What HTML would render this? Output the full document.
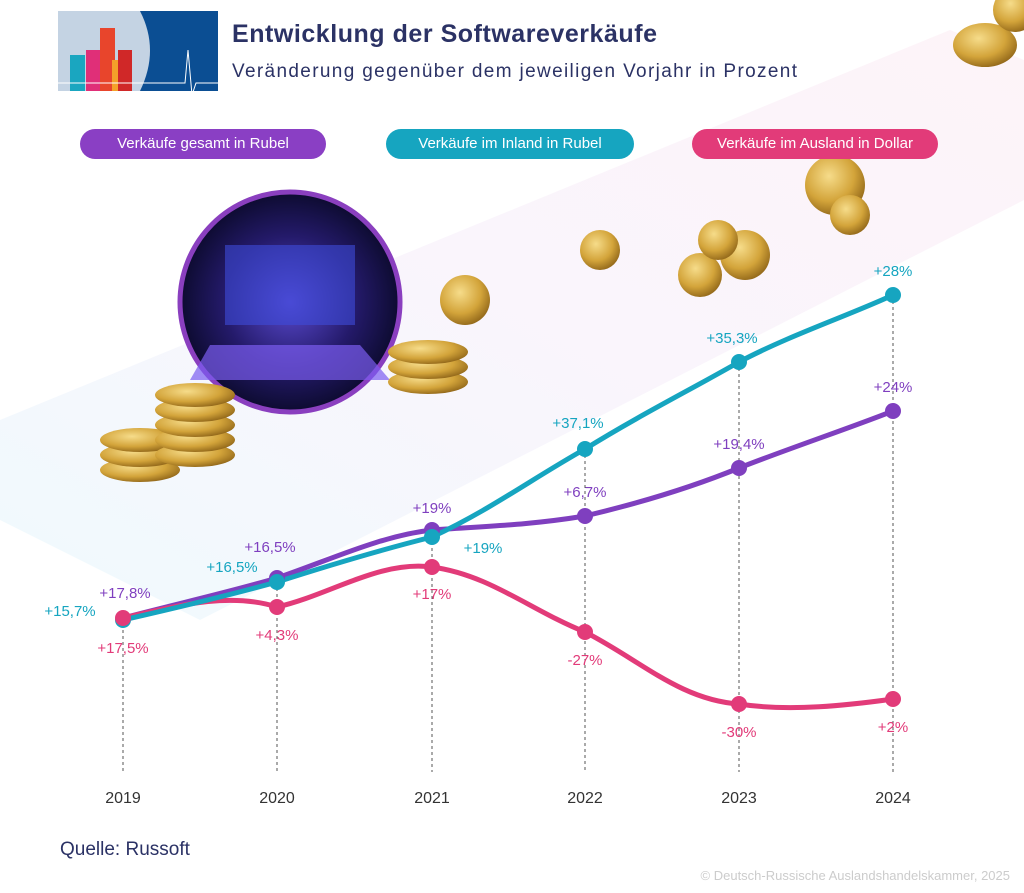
<!DOCTYPE html>
<html><head><meta charset="utf-8"><style>
body{margin:0;width:1024px;height:893px;background:#fff;font-family:"Liberation Sans",sans-serif;overflow:hidden;position:relative}
.pill{position:absolute;top:129px;height:30px;border-radius:15px;color:#fff;font-size:15px;line-height:30px;text-align:center}
</style></head><body>
<svg width="1024" height="893" style="position:absolute;left:0;top:0">
<defs>
<radialGradient id="scr" cx="50%" cy="50%" r="50%"><stop offset="0" stop-color="#5a4ad0"/><stop offset="0.6" stop-color="#241a6a"/><stop offset="1" stop-color="#0d0b30"/></radialGradient>
<radialGradient id="coin" cx="40%" cy="35%" r="70%"><stop offset="0" stop-color="#f6dc8a"/><stop offset="0.6" stop-color="#d3a43a"/><stop offset="1" stop-color="#8e6418"/></radialGradient>
<linearGradient id="sky" x1="0" y1="1" x2="1" y2="0"><stop offset="0" stop-color="#d8f3fb"/><stop offset="0.5" stop-color="#f1e6f8"/><stop offset="1" stop-color="#fbe3ee"/></linearGradient>
</defs>
<polygon points="0,520 0,420 950,30 1024,60 1024,200 200,620" fill="url(#sky)" opacity="0.4"/>
<rect x="58" y="11" width="160" height="80" fill="#0b4e93"/>
<path d="M58,11 H140 Q160,50 140,91 H58 Z" fill="#c4d3e3"/>
<rect x="70" y="55" width="15" height="36" fill="#1aa6c0"/><rect x="86" y="50" width="18" height="41" fill="#e02f78"/>
<rect x="100" y="28" width="15" height="63" fill="#e8452c"/><rect x="112" y="60" width="15" height="31" fill="#f4a12a"/><rect x="118" y="50" width="14" height="41" fill="#d02828"/>
<polyline points="58,83 185,83 188,50 192,95 196,83 218,83" fill="none" stroke="#fff" stroke-width="1"/>
<text x="232" y="42" font-size="25" font-weight="bold" fill="#2b3265" textLength="425">Entwicklung der Softwareverkäufe</text>
<text x="232" y="77" font-size="19" fill="#2b3265" textLength="565">Veränderung gegenüber dem jeweiligen Vorjahr in Prozent</text>
<circle cx="290" cy="302" r="110" fill="url(#scr)" stroke="#8a3fbf" stroke-width="5"/>
<rect x="225" y="245" width="130" height="80" fill="#3d4bd8" opacity="0.6"/>
<polygon points="210,345 360,345 390,380 190,380" fill="#7a5cf0" opacity="0.7"/>
<g fill="url(#coin)">
<ellipse cx="140" cy="470" rx="40" ry="12"/><ellipse cx="140" cy="455" rx="40" ry="12"/><ellipse cx="140" cy="440" rx="40" ry="12"/>
<ellipse cx="195" cy="455" rx="40" ry="12"/><ellipse cx="195" cy="440" rx="40" ry="12"/><ellipse cx="195" cy="425" rx="40" ry="12"/><ellipse cx="195" cy="410" rx="40" ry="12"/><ellipse cx="195" cy="395" rx="40" ry="12"/>
<ellipse cx="428" cy="382" rx="40" ry="12"/><ellipse cx="428" cy="367" rx="40" ry="12"/><ellipse cx="428" cy="352" rx="40" ry="12"/>
<circle cx="465" cy="300" r="25"/><circle cx="600" cy="250" r="20"/>
<circle cx="700" cy="275" r="22"/><circle cx="745" cy="255" r="25"/><circle cx="718" cy="240" r="20"/>
<circle cx="835" cy="185" r="30"/><circle cx="850" cy="215" r="20"/>
<ellipse cx="985" cy="45" rx="32" ry="22"/><circle cx="1015" cy="10" r="22"/>
</g>
<g stroke="#555" stroke-width="1" stroke-dasharray="3,3">
<line x1="123" y1="618" x2="123" y2="772"/><line x1="277" y1="582" x2="277" y2="772"/><line x1="432" y1="530" x2="432" y2="772"/>
<line x1="585" y1="449" x2="585" y2="772"/><line x1="739" y1="362" x2="739" y2="772"/><line x1="893" y1="295" x2="893" y2="772"/>
</g>
<g fill="none" stroke-width="5" stroke-linecap="round">
<path d="M123,618 C180,603 230,592 277,578 C330,560 380,536 432,530 C490,526 530,525 585,516 C640,503 690,488 739,468 C790,448 850,428 893,411" stroke="#7f3fbf"/>
<path d="M123,618 C180,605 230,592 277,607 C330,595 380,560 432,567 C490,575 530,610 585,632 C640,660 680,700 739,704 C790,712 850,705 893,699" stroke="#e23b79"/>
<path d="M123,620 C180,607 230,595 277,582 C330,565 380,550 432,537 C490,510 530,480 585,449 C640,415 690,390 739,362 C790,335 850,315 893,295" stroke="#16a5c0"/>
</g>
<g fill="#7f3fbf"><circle cx="432" cy="530" r="8"/><circle cx="585" cy="516" r="8"/><circle cx="739" cy="468" r="8"/><circle cx="893" cy="411" r="8"/><circle cx="277" cy="578" r="8"/></g>
<g fill="#16a5c0"><circle cx="277" cy="582" r="8"/><circle cx="432" cy="537" r="8"/><circle cx="585" cy="449" r="8"/><circle cx="739" cy="362" r="8"/><circle cx="893" cy="295" r="8"/><circle cx="123" cy="620" r="8"/></g>
<g fill="#e23b79"><circle cx="123" cy="618" r="8"/><circle cx="277" cy="607" r="8"/><circle cx="432" cy="567" r="8"/><circle cx="585" cy="632" r="8"/><circle cx="739" cy="704" r="8"/><circle cx="893" cy="699" r="8"/></g>
<g font-size="15" text-anchor="middle">
<g fill="#7f3fbf"><text x="125" y="598">+17,8%</text><text x="270" y="552">+16,5%</text><text x="432" y="513">+19%</text><text x="585" y="497">+6,7%</text><text x="739" y="449">+19,4%</text><text x="893" y="392">+24%</text></g>
<g fill="#16a5c0"><text x="70" y="616">+15,7%</text><text x="232" y="572">+16,5%</text><text x="483" y="553">+19%</text><text x="578" y="428">+37,1%</text><text x="732" y="343">+35,3%</text><text x="893" y="276">+28%</text></g>
<g fill="#e23b79"><text x="123" y="653">+17,5%</text><text x="277" y="640">+4,3%</text><text x="432" y="599">+17%</text><text x="585" y="665">-27%</text><text x="739" y="737">-30%</text><text x="893" y="732">+2%</text></g>
</g>
<g font-size="16" fill="#333" text-anchor="middle"><text x="123" y="803">2019</text><text x="277" y="803">2020</text><text x="432" y="803">2021</text><text x="585" y="803">2022</text><text x="739" y="803">2023</text><text x="893" y="803">2024</text></g>
<text x="60" y="855" font-size="19" fill="#2b3265">Quelle: Russoft</text>
<text x="1010" y="880" font-size="13" fill="#ccc" text-anchor="end">© Deutsch-Russische Auslandshandelskammer, 2025</text>
</svg>
<div class="pill" style="left:80px;width:246px;background:#8a3fc4">Verkäufe gesamt in Rubel</div>
<div class="pill" style="left:386px;width:248px;background:#16a5c0">Verkäufe im Inland in Rubel</div>
<div class="pill" style="left:692px;width:246px;background:#e23b79">Verkäufe im Ausland in Dollar</div>
</body></html>
